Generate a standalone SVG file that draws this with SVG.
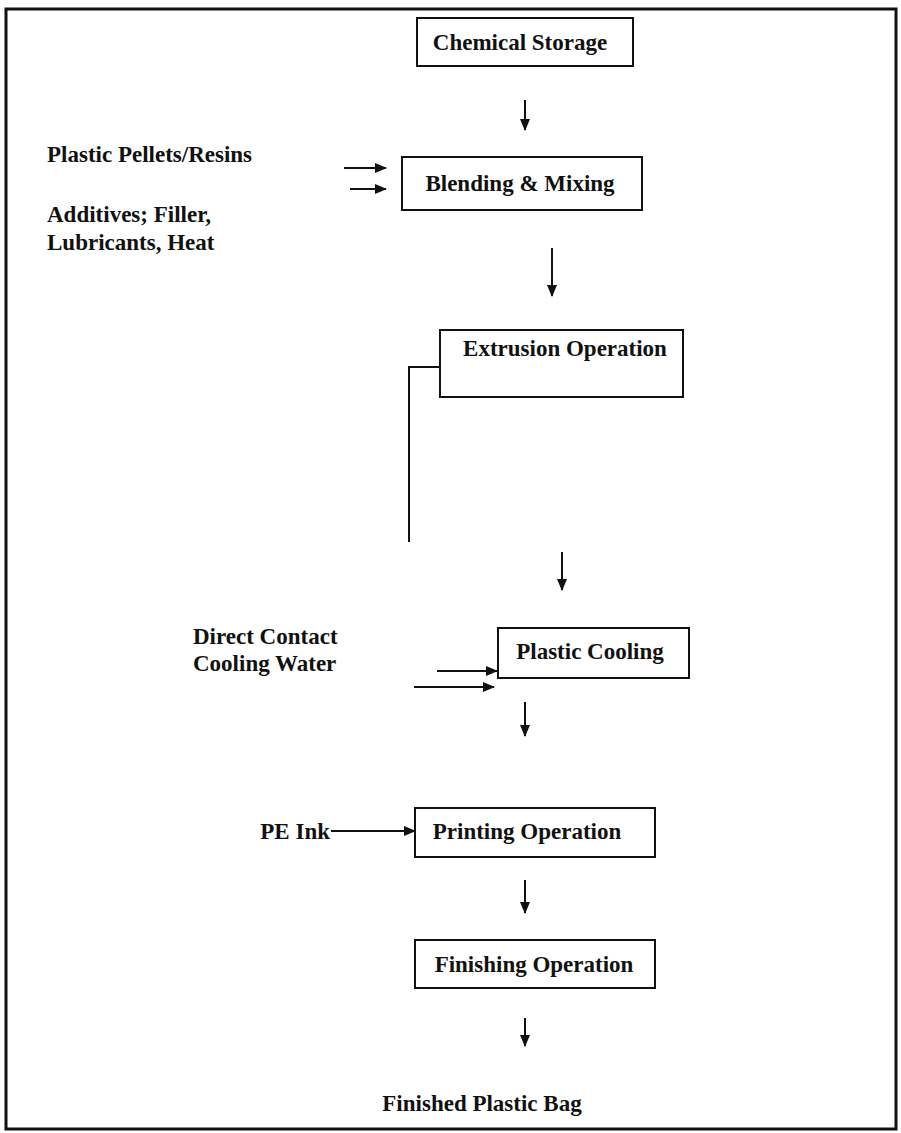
<svg xmlns="http://www.w3.org/2000/svg" width="901" height="1133" viewBox="0 0 901 1133">
<style>
.box{fill:#fff;stroke:#111;stroke-width:2}
.t{font-family:"Liberation Serif",serif;font-weight:bold;font-size:23px;fill:#111}
.c{stroke:#111;stroke-width:2;fill:none}
</style>
<defs>
<marker id="ah" markerWidth="12" markerHeight="10" refX="11" refY="5" orient="auto" markerUnits="userSpaceOnUse">
<path d="M0,0 L12,5 L0,10 Z" fill="#111"/>
</marker>
</defs>
<rect x="0" y="0" width="901" height="1133" fill="#fff"/>
<rect x="6" y="9" width="890" height="1120" fill="none" stroke="#111" stroke-width="3"/>
<g id="chemical-storage"><rect class="box" x="417" y="18" width="216" height="48"/><text class="t" x="520" y="50" text-anchor="middle">Chemical Storage</text></g>
<g id="blending"><rect class="box" x="402" y="157" width="240" height="53"/><text class="t" x="520" y="191" text-anchor="middle">Blending &amp; Mixing</text></g>
<g id="extrusion"><rect class="box" x="440" y="330" width="243" height="67"/><text class="t" x="565" y="356" text-anchor="middle">Extrusion Operation</text></g>
<g id="cooling"><rect class="box" x="498" y="628" width="191" height="50"/><text class="t" x="590" y="659" text-anchor="middle">Plastic Cooling</text></g>
<g id="printing"><rect class="box" x="415" y="808" width="240" height="49"/><text class="t" x="527" y="839" text-anchor="middle">Printing Operation</text></g>
<g id="finishing"><rect class="box" x="415" y="940" width="240" height="48"/><text class="t" x="534" y="972" text-anchor="middle">Finishing Operation</text></g>
<g id="labels">
<text class="t" x="47" y="162">Plastic Pellets/Resins</text>
<text class="t" x="47" y="222">Additives; Filler,</text>
<text class="t" x="47" y="250">Lubricants, Heat</text>
<text class="t" x="193" y="644">Direct Contact</text>
<text class="t" x="193" y="671">Cooling Water</text>
<text class="t" x="330" y="839" text-anchor="end">PE Ink</text>
<text class="t" x="482" y="1111" text-anchor="middle">Finished Plastic Bag</text>
</g>
<g id="connectors">
<line class="c" x1="525" y1="100" x2="525" y2="130" marker-end="url(#ah)"/>
<line class="c" x1="344" y1="168" x2="386" y2="168" marker-end="url(#ah)"/>
<line class="c" x1="350" y1="189" x2="386" y2="189" marker-end="url(#ah)"/>
<line class="c" x1="552" y1="248" x2="552" y2="296" marker-end="url(#ah)"/>
<polyline class="c" points="440,367 409,367 409,542"/>
<line class="c" x1="562" y1="552" x2="562" y2="590" marker-end="url(#ah)"/>
<line class="c" x1="437" y1="671" x2="497" y2="671" marker-end="url(#ah)"/>
<line class="c" x1="414" y1="687" x2="494" y2="687" marker-end="url(#ah)"/>
<line class="c" x1="525" y1="702" x2="525" y2="736" marker-end="url(#ah)"/>
<line class="c" x1="331" y1="831" x2="415" y2="831" marker-end="url(#ah)"/>
<line class="c" x1="525" y1="880" x2="525" y2="913" marker-end="url(#ah)"/>
<line class="c" x1="525" y1="1018" x2="525" y2="1046" marker-end="url(#ah)"/>
</g>
</svg>
